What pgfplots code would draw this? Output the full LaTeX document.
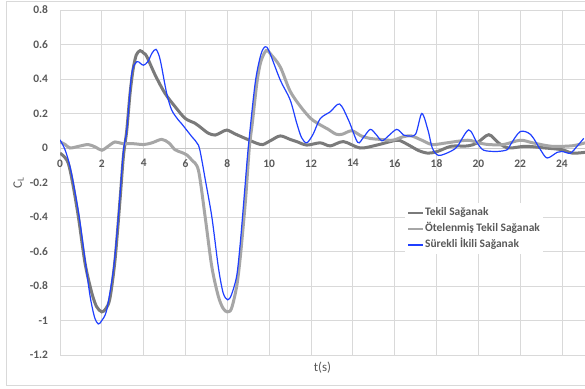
\documentclass[border=0pt]{standalone}
\usepackage{fontspec}
\setmainfont{Carlito}
\usepackage{pgfplots}
\pgfplotsset{compat=1.18}
\definecolor{labgray}{HTML}{595959}
\definecolor{gridgray}{HTML}{D9D9D9}
\definecolor{darkg}{HTML}{7A7A7A}
\definecolor{lightg}{HTML}{A6A6A6}
\definecolor{blueline}{HTML}{1F3FFF}
\begin{document}
\begin{tikzpicture}
\useasboundingbox (0,0) rectangle (585bp,389bp);
\fill[white] (0,0) rectangle (585bp,389bp);
\draw[gridgray, line width=0.75bp] (6bp,4bp) rectangle (600bp,388bp);
\begin{axis}[
  at={(60bp,34bp)}, anchor=south west,
  scale only axis, width=525bp, height=345bp,
  xmin=0, xmax=25.1, ymin=-1.2, ymax=0.8,
  axis x line=middle, axis y line=left,
  hide obscured x ticks=false, hide obscured y ticks=false,
  x axis line style={draw=gridgray!80!gray, line width=0.75bp, -},
  y axis line style={draw=gridgray, line width=0.75bp, -},
  major tick length=0pt,
  xtick={0,2,4,6,8,10,12,14,16,18,20,22,24},
  ytick={-1.2,-1,-0.8,-0.6,-0.4,-0.2,0,0.2,0.4,0.6,0.8},
  grid=major, grid style={draw=gridgray, line width=0.75bp},
  /pgf/number format/assume math mode=true,
  ticklabel style={font=\bfseries\fontsize{11.5}{13}\selectfont, text=labgray},
  xticklabel style={yshift=-8bp},
  yticklabel style={xshift=-8.5bp},
  every axis x label/.style={at={(axis description cs:0.5,-0.036)}, anchor=center, font=\fontsize{13}{15}\selectfont, text=labgray},
  every axis y label/.style={at={(axis description cs:-0.079,0.5)}, rotate=90, anchor=center, font=\fontsize{13}{15}\selectfont, text=labgray},
  xlabel={t(s)},
  ylabel={C\textsubscript{L}},
  legend cell align=left,
  legend image code/.code={\draw[#1] (0bp,0bp) -- (15bp,0bp);},
  legend style={at={(rel axis cs:0.657,0.44)}, anchor=north west, draw=none, fill=white,
    font=\bfseries\fontsize{11.5}{13}\selectfont, text=labgray, inner xsep=2bp, inner ysep=3bp,
    row sep=3bp, nodes={inner sep=1bp, text height=8.5bp, text depth=2.5bp}},
]
\addplot[darkg, line width=3bp, smooth, legend image post style={line width=2bp}] coordinates {
(0.0,-0.03) (0.2,-0.05) (0.4,-0.09) (0.6,-0.2) (0.88,-0.40) (1.2,-0.67) (1.52,-0.84) (1.75,-0.92) (2.0,-0.95) (2.2,-0.93) (2.39,-0.87) (2.63,-0.65) (2.87,-0.30) (3.03,-0.05) (3.19,0.10) (3.35,0.317) (3.5,0.46) (3.65,0.54) (3.83,0.564) (4.0,0.55) (4.15,0.53) (4.55,0.423) (5.02,0.317) (5.5,0.24) (5.98,0.172) (6.46,0.143) (6.78,0.114) (7.1,0.085) (7.42,0.075) (7.7,0.09) (7.98,0.104) (8.4,0.08) (8.85,0.056) (9.41,0.027) (9.7,0.02) (10.1,0.045) (10.53,0.07) (11.0,0.05) (11.32,0.037) (11.8,0.017) (12.44,0.03) (12.92,0.012) (13.55,0.037) (14.35,0.0) (15.15,0.017) (15.79,0.037) (16.2,0.045) (16.7,0.015) (17.15,-0.015) (17.6,-0.03) (18.05,-0.02) (18.7,0.01) (19.5,0.012) (19.95,0.03) (20.5,0.077) (20.96,0.03) (21.45,0.0) (22.25,0.01) (23.2,0.0) (24.0,-0.01) (24.5,-0.03) (25.1,-0.025)
};
\addlegendentry{Tekil Sağanak}
\addplot[lightg, line width=3bp, smooth, legend image post style={line width=2bp}] coordinates {
(0.0,0.035) (0.25,0.02) (0.48,0.0) (0.9,0.01) (1.35,0.02) (1.7,0.005) (2.0,-0.013) (2.3,0.01) (2.63,0.035) (3.0,0.025) (3.5,0.025) (4.0,0.02) (4.4,0.03) (4.86,0.05) (5.2,0.03) (5.5,-0.01) (5.8,-0.025) (6.06,-0.04) (6.3,-0.07) (6.62,-0.13) (6.94,-0.40) (7.26,-0.69) (7.57,-0.86) (7.8,-0.93) (8.0,-0.95) (8.2,-0.93) (8.45,-0.80) (8.63,-0.62) (8.87,-0.30) (9.05,0.0) (9.2,0.15) (9.41,0.375) (9.6,0.50) (9.86,0.565) (10.1,0.54) (10.53,0.47) (11.0,0.33) (11.5,0.24) (12.0,0.17) (12.5,0.13) (12.8,0.11) (13.2,0.08) (13.5,0.08) (13.95,0.1) (14.4,0.07) (14.85,0.055) (15.3,0.05) (15.9,0.045) (16.4,0.065) (16.8,0.07) (17.3,0.045) (17.8,0.02) (18.5,0.03) (19.5,0.045) (20.0,0.03) (20.5,0.02) (21.2,0.02) (22.0,0.045) (22.6,0.03) (23.5,0.01) (24.5,0.013) (25.1,0.03)
};
\addlegendentry{Ötelenmiş Tekil Sağanak}
\addplot[blueline, line width=1.2bp, smooth, legend image post style={line width=1.5bp}] coordinates {
(0.0,0.047) (0.24,-0.01) (0.5,-0.12) (0.88,-0.37) (1.2,-0.65) (1.44,-0.86) (1.65,-0.98) (1.83,-1.02) (2.0,-1.0) (2.23,-0.94) (2.55,-0.71) (2.79,-0.40) (3.03,-0.02) (3.19,0.10) (3.43,0.43) (3.67,0.50) (3.85,0.49) (3.99,0.48) (4.2,0.50) (4.4,0.55) (4.59,0.572) (4.75,0.53) (4.86,0.47) (5.1,0.317) (5.34,0.22) (5.66,0.162) (5.82,0.14) (6.3,0.066) (6.62,0.016) (6.78,-0.07) (6.94,-0.18) (7.26,-0.40) (7.57,-0.69) (7.8,-0.84) (8.02,-0.88) (8.2,-0.85) (8.45,-0.74) (8.62,-0.55) (8.82,-0.26) (9.0,0.0) (9.33,0.375) (9.6,0.54) (9.81,0.587) (10.0,0.56) (10.53,0.394) (11.0,0.28) (11.32,0.143) (11.55,0.06) (11.8,0.03) (12.1,0.08) (12.44,0.17) (12.92,0.21) (13.37,0.255) (13.8,0.16) (14.23,0.033) (14.5,0.06) (14.83,0.108) (15.1,0.08) (15.39,0.042) (15.7,0.07) (16.1,0.108) (16.43,0.075) (16.6,0.07) (17.0,0.08) (17.3,0.2) (17.6,0.1) (17.8,0.0) (18.1,-0.043) (18.67,-0.02) (19.0,0.01) (19.54,0.105) (19.94,0.03) (20.26,-0.013) (20.9,-0.02) (21.38,-0.01) (21.54,0.02) (22.0,0.095) (22.5,0.078) (22.97,-0.01) (23.29,-0.058) (23.77,-0.025) (24.0,-0.02) (24.4,-0.03) (24.72,0.01) (25.04,0.056)
};
\addlegendentry{Sürekli İkili Sağanak}
\end{axis}
\end{tikzpicture}
\end{document}
